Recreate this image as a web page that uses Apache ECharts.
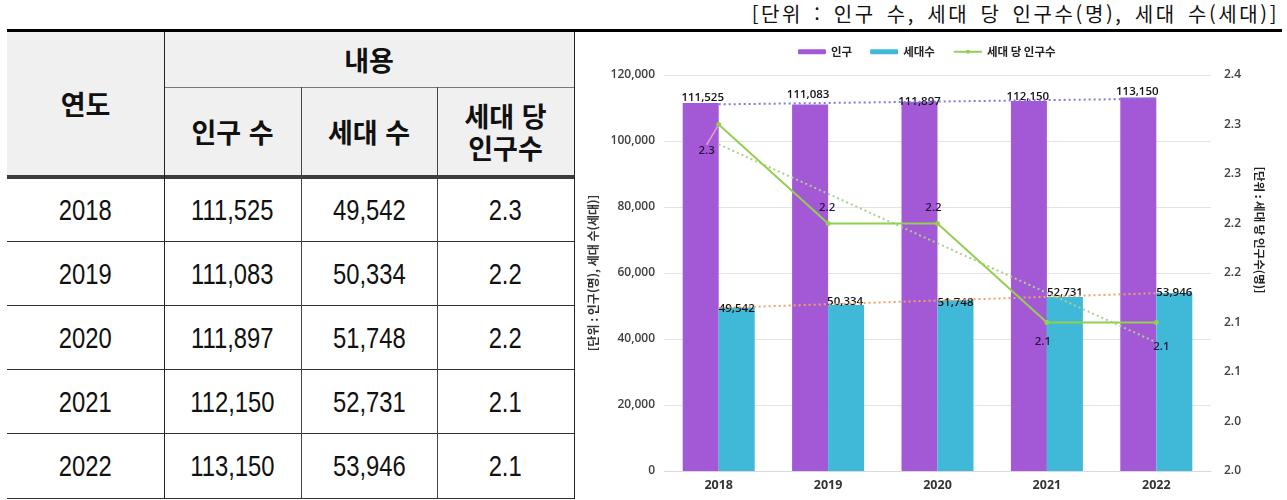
<!DOCTYPE html>
<html lang="ko">
<head>
<meta charset="utf-8">
<title>인구 및 세대 현황</title>
<script src="https://cdn.jsdelivr.net/npm/echarts@6/dist/echarts.min.js"></script>
<style>
  html, body { margin: 0; padding: 0; background: #fff; }
  body { width: 1287px; height: 500px; position: relative; overflow: hidden; font-family: 'Noto Sans CJK KR', sans-serif; }
  .unit { position: absolute; right: 8px; top: -1px; font-size: 20px; letter-spacing: 2.6px; word-spacing: 3px; color: #111; white-space: nowrap; }
  .line { position: absolute; }
  .cell { position: absolute; display: flex; align-items: center; justify-content: center; text-align: center; color: #111; }
  .head { font-weight: bold; font-size: 27px; line-height: 32px; }
  .num { font-family: 'Liberation Sans', Arial, sans-serif; font-size: 29px; }
  .num span { display: inline-block; transform: scaleX(0.82); }
  #chart { position: absolute; left: 578px; top: 33px; width: 709px; height: 467px; }
</style>
</head>
<body>
<div class="unit">[단위 : 인구 수, 세대 당 인구수(명), 세대 수(세대)]</div>
<div id="table"></div>
<div id="chart"></div>
<script>
// 데이터
var years = ['2018', '2019', '2020', '2021', '2022'];
var population = [111525, 111083, 111897, 112150, 113150];
var households = [49542, 50334, 51748, 52731, 53946];
var perHousehold = [2.3, 2.2, 2.2, 2.1, 2.1];
// 추세선 (첫 해, 마지막 해) - 그림에서 읽은 값
var populationTrend = [111100, 112820];
var householdTrend = [49420, 53900];
var perHouseholdTrend = [2.28, 2.08];
// 축 눈금
var leftAxisTicks = [0, 120000, 20000];
var rightAxisTicks = [1.95, 2.35, 0.05];

function fmt(v) { return v.toLocaleString('en-US'); }

// ---- 표 ----
var table = document.getElementById('table');
var colX = [7, 164, 301, 437, 574];
var rowY = [179, 242, 306, 370, 434, 499];

function add(cls, x, y, w, h, html, css) {
  var d = document.createElement('div');
  d.className = cls;
  d.style.left = x + 'px';
  d.style.top = y + 'px';
  d.style.width = w + 'px';
  d.style.height = h + 'px';
  if (html) d.innerHTML = html;
  if (css) d.style.background = css;
  table.appendChild(d);
  return d;
}

add('line', colX[0], 32, colX[4] - colX[0], 144, '', '#f0f0f0');
add('cell head', colX[0], 32, colX[1] - colX[0], 144, '연도');
add('cell head', colX[1], 32, colX[4] - colX[1], 55, '내용');
add('cell head', colX[1], 87, colX[2] - colX[1], 89, '인구 수');
add('cell head', colX[2], 87, colX[3] - colX[2], 89, '세대 수');
add('cell head', colX[3], 87, colX[4] - colX[3], 89, '세대 당<br>인구수');

years.forEach(function (y, i) {
  var top = rowY[i], h = rowY[i + 1] - rowY[i];
  var vals = [y, fmt(population[i]), fmt(households[i]), perHousehold[i].toFixed(1)];
  vals.forEach(function (v, c) {
    add('cell num', colX[c], top, colX[c + 1] - colX[c], h, '<span>' + v + '</span>');
  });
});

// 선
add('line', 7, 29, 1275, 3, '', '#000');
add('line', colX[1], 87, colX[4] - colX[1], 1, '', '#777');
add('line', colX[0], 175, colX[4] - colX[0], 4, '', '#3c3c3c');
for (var r = 1; r < rowY.length; r++) {
  add('line', colX[0], rowY[r] - 1, colX[4] - colX[0], 1, '', '#333');
}
add('line', colX[1], 32, 1, 467, '', '#222');
add('line', colX[2], 87, 1, 412, '', '#444');
add('line', colX[3], 87, 1, 412, '', '#444');
add('line', colX[4], 32, 1, 467, '', '#222');

// ---- 차트 ----
var myChart = echarts.init(document.getElementById('chart'));

function ends(pair) {
  return years.map(function (_, i) {
    if (i === 0) return pair[0];
    if (i === years.length - 1) return pair[1];
    return null;
  });
}

var numFont = "'Open Sans', 'Noto Sans CJK KR', sans-serif";
var krFont = "'Noto Sans CJK KR', sans-serif";

// 라벨 위치 미세 조정
var popShift = [[2, 1], [-2, -4], [0, 6], [-1, 2], [-1, 0]];
var hhShift = [[0, 7], [-1, 3], [0, 8], [0, 1], [0, 5]];
var ratioShift = [[-12, 26], [-1, -16], [-4, -16], [-4, 19], [5, 24]];

var barLabel = {
  show: true,
  position: 'top',
  distance: 0,
  color: '#111',
  fontSize: 11.5,
  fontWeight: 600,
  fontFamily: numFont,
  formatter: function (p) { return fmt(p.value); }
};

var option = {
  animation: false,
  textStyle: { fontFamily: numFont },
  legend: {
    data: ['인구', '세대수', '세대 당 인구수'],
    left: 215,
    top: 8,
    itemWidth: 28,
    itemHeight: 5,
    itemGap: 18,
    textStyle: { fontFamily: krFont, fontSize: 11.5, fontWeight: 'bold', color: '#222' }
  },
  grid: {
    left: 86,
    right: 76,
    top: 42,
    bottom: 29,
    outerBoundsMode: 'none'
  },
  xAxis: {
    type: 'category',
    data: years,
    axisTick: { show: false },
    axisLine: { lineStyle: { color: '#d9d9d9' } },
    axisLabel: { color: '#333', fontSize: 12.5, fontWeight: 'bold', margin: 8 }
  },
  yAxis: [
    {
      type: 'value',
      min: leftAxisTicks[0],
      max: leftAxisTicks[1],
      interval: leftAxisTicks[2],
      name: '[단위 : 인구(명), 세대 수(세대)]',
      nameLocation: 'middle',
      nameGap: 63,
      nameTextStyle: { fontFamily: krFont, fontSize: 12, fontWeight: 'bold', color: '#333' },
      axisLine: { show: false },
      axisTick: { show: false },
      splitLine: { lineStyle: { color: '#e3e3e3' } },
      axisLabel: {
        color: '#404040', fontSize: 12, fontWeight: 600, margin: 9,
        formatter: function (v) { return fmt(v); }
      }
    },
    {
      type: 'value',
      min: rightAxisTicks[0],
      max: rightAxisTicks[1],
      interval: rightAxisTicks[2],
      name: '[단위 : 세대 당 인구수(명)]',
      nameLocation: 'middle',
      nameRotate: -90,
      nameGap: 43,
      nameTextStyle: { fontFamily: krFont, fontSize: 11.5, fontWeight: 'bold', color: '#222', padding: [0, 86, 0, 0] },
      axisLine: { show: false },
      axisTick: { show: false },
      splitLine: { show: false },
      axisLabel: {
        color: '#404040', fontSize: 12, fontWeight: 600, margin: 13,
        formatter: function (v) { return (Math.round(v * 10 + 1e-6) / 10).toFixed(1); }
      }
    }
  ],
  series: [
    {
      name: '인구',
      type: 'bar',
      barWidth: 36,
      barGap: '0%',
      itemStyle: { color: '#a358d6' },
      data: population.map(function (v, i) {
        return { value: v, label: { offset: popShift[i] } };
      }),
      label: barLabel
    },
    {
      name: '세대수',
      type: 'bar',
      barWidth: 36,
      itemStyle: { color: '#40b9d9' },
      data: households.map(function (v, i) {
        return { value: v, label: { offset: hhShift[i] } };
      }),
      label: barLabel
    },
    {
      name: '인구 추세',
      type: 'line',
      data: ends(populationTrend),
      connectNulls: true,
      symbol: 'none',
      silent: true,
      lineStyle: { color: '#7b7be0', width: 2, type: [2, 3] }
    },
    {
      name: '세대수 추세',
      type: 'line',
      data: ends(householdTrend),
      connectNulls: true,
      symbol: 'none',
      silent: true,
      lineStyle: { color: '#f4a064', width: 2, type: [2, 3] }
    },
    {
      name: '세대 당 인구수 추세',
      type: 'line',
      yAxisIndex: 1,
      data: ends(perHouseholdTrend),
      connectNulls: true,
      symbol: 'none',
      silent: true,
      lineStyle: { color: '#a9d18e', width: 2, type: [2, 3] }
    },
    {
      name: '세대 당 인구수',
      type: 'line',
      yAxisIndex: 1,
      symbol: 'circle',
      symbolSize: 5,
      itemStyle: { color: '#92d050' },
      lineStyle: { color: '#92d050', width: 2 },
      data: perHousehold.map(function (v, i) {
        return { value: v, labelLine: { show: i === 0 } };
      }),
      label: {
        show: true,
        position: 'inside',
        color: '#2b1142',
        fontSize: 11.5,
        fontWeight: 600,
        fontFamily: numFont,
        formatter: function (p) { return p.value.toFixed(1); }
      },
      labelLayout: function (p) {
        return { dx: ratioShift[p.dataIndex][0], dy: ratioShift[p.dataIndex][1] };
      },
      labelLine: { show: false, lineStyle: { color: '#e6a0c4', width: 1.5 } }
    }
  ]
};

myChart.setOption(option);
window.addEventListener('resize', function () {
  myChart.resize();
});
</script>
</body>
</html>
